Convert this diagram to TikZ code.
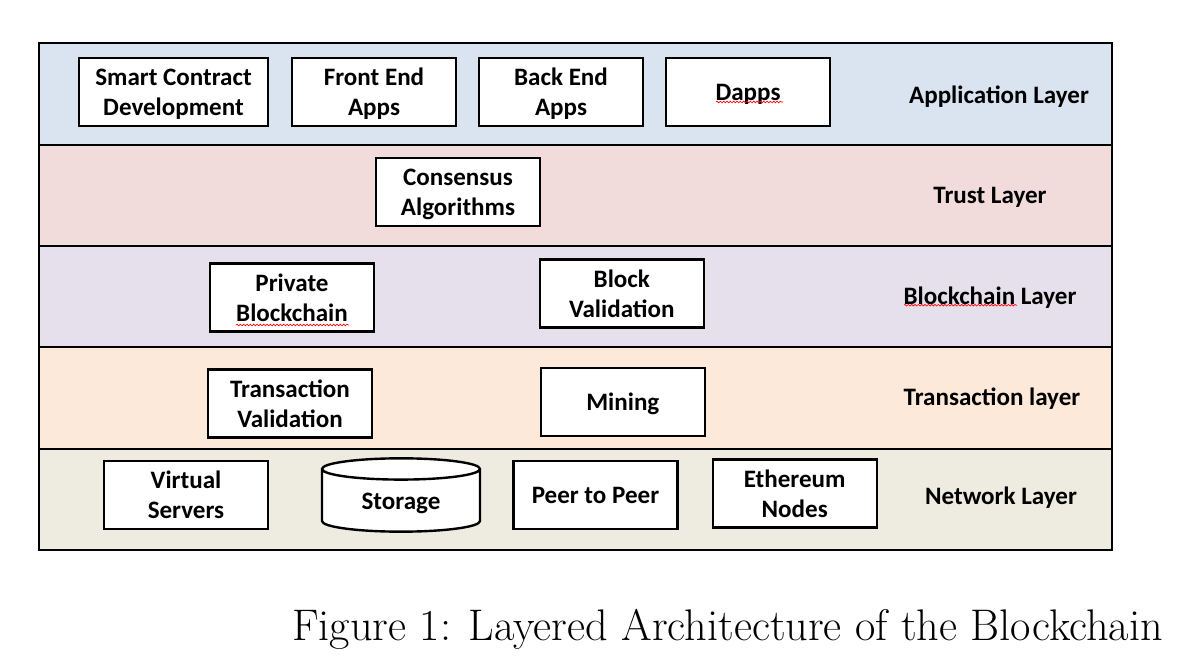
\documentclass[tikz,border=0pt]{standalone}
\usepackage{fontspec}
\usepackage{xcolor}
\usepackage{tikz}
\usetikzlibrary{shapes, shapes.geometric, positioning, calc, decorations.pathmorphing}
\newfontfamily\boxfont{Carlito}

\definecolor{appcol}{HTML}{DAE3F0}
\definecolor{trustcol}{HTML}{F2DCDB}
\definecolor{chaincol}{HTML}{E5E0EC}
\definecolor{txcol}{HTML}{FDE9D9}
\definecolor{netcol}{HTML}{EEECE1}

\tikzset{
	box/.style={draw, fill=white, line width=1.8pt, align=center, inner sep=0pt,
		minimum width=123pt, minimum height=51pt, text depth=0pt,
		font=\boxfont\bfseries\fontsize{18.8}{22.5}\selectfont},
	layername/.style={text depth=0pt, font=\boxfont\bfseries\fontsize{18.8}{22.5}\selectfont},
	layer/.style={draw, line width=1.5pt},
	squiggle/.style={red, line width=0.5pt, decorate,
		decoration={snake, amplitude=0.6pt, segment length=2.5pt}}
}

\begin{document}
\begin{tikzpicture}[x=0.75pt, y=-0.75pt]
		\useasboundingbox (0,0) rectangle (1197,666);

		% layers
		\draw[layer, fill=appcol] (39,43) rectangle (1112,145);
		\draw[layer, fill=trustcol] (39,145) rectangle (1112,246);
		\draw[layer, fill=chaincol] (39,246) rectangle (1112,347);
		\draw[layer, fill=txcol] (39,347) rectangle (1112,449);
		\draw[layer, fill=netcol] (39,449) rectangle (1112,550);

		% application layer
		\node[box, minimum width=141.75pt] (Smart contract) at (173.5,92) {Smart Contract\\ Development};
		\node[box] (Front end) at (374,92) {Front End\\ Apps};
		\node[box] (Back end) at (561,92) {Back End\\ Apps};
		\node[box] (Dapps) at (748,92) {Dapps};
		\node[layername] (Application layer) at (999,94.7) {Application Layer};

		% trust layer
		\node[box] (Consensus) at (458,192) {Consensus\\ Algorithms};
		\node[layername] (Trust layer) at (990,195.8) {Trust Layer};

		% blockchain layer
		\node[box] (Private chain) at (292,297.4) {Private\\ Blockchain};
		\node[box] (Block validation) at (621.8,293.7) {Block\\ Validation};
		\node[layername] (Blockchain layer) at (990,295.7) {Blockchain Layer};

		% transaction layer
		\node[box] (Tx validation) at (290,403.7) {Transaction\\ Validation};
		\node[box] (Mining) at (622.8,402) {Mining};
		\node[layername] (Transaction layer) at (992,397) {Transaction layer};

		% network layer
		\node[box] (Virtual servers) at (186,495) {Virtual\\ Servers};
		\node[box, cylinder, shape border rotate=90, aspect=0.27, anchor=shape center,
			minimum width=118.5pt, minimum height=55pt] (Storage) at (401,495) {Storage};
		\node[box] (Peer) at (595.5,495) {Peer to Peer};
		\node[box] (Ethereum) at (794.7,493.7) {Ethereum\\ Nodes};
		\node[layername] (Network layer) at (1001,496) {Network Layer};

		% spell check marks
		\draw[squiggle] ($(Dapps.center)+(-32,10)$) -- ($(Dapps.center)+(35,10)$);
		\draw[squiggle] ($(Private chain.center)+(-56,27.6)$) -- ($(Private chain.center)+(57,27.6)$);
		\draw[squiggle] ($(Blockchain layer.center)+(-86,9.5)$) -- ($(Blockchain layer.center)+(27,9.5)$);

		\node[anchor=base, font=\fontsize{33.2}{38}\selectfont] (Caption) at (727.5,640)
			{Figure 1: Layered Architecture of the Blockchain};
	\end{tikzpicture}
\end{document}
